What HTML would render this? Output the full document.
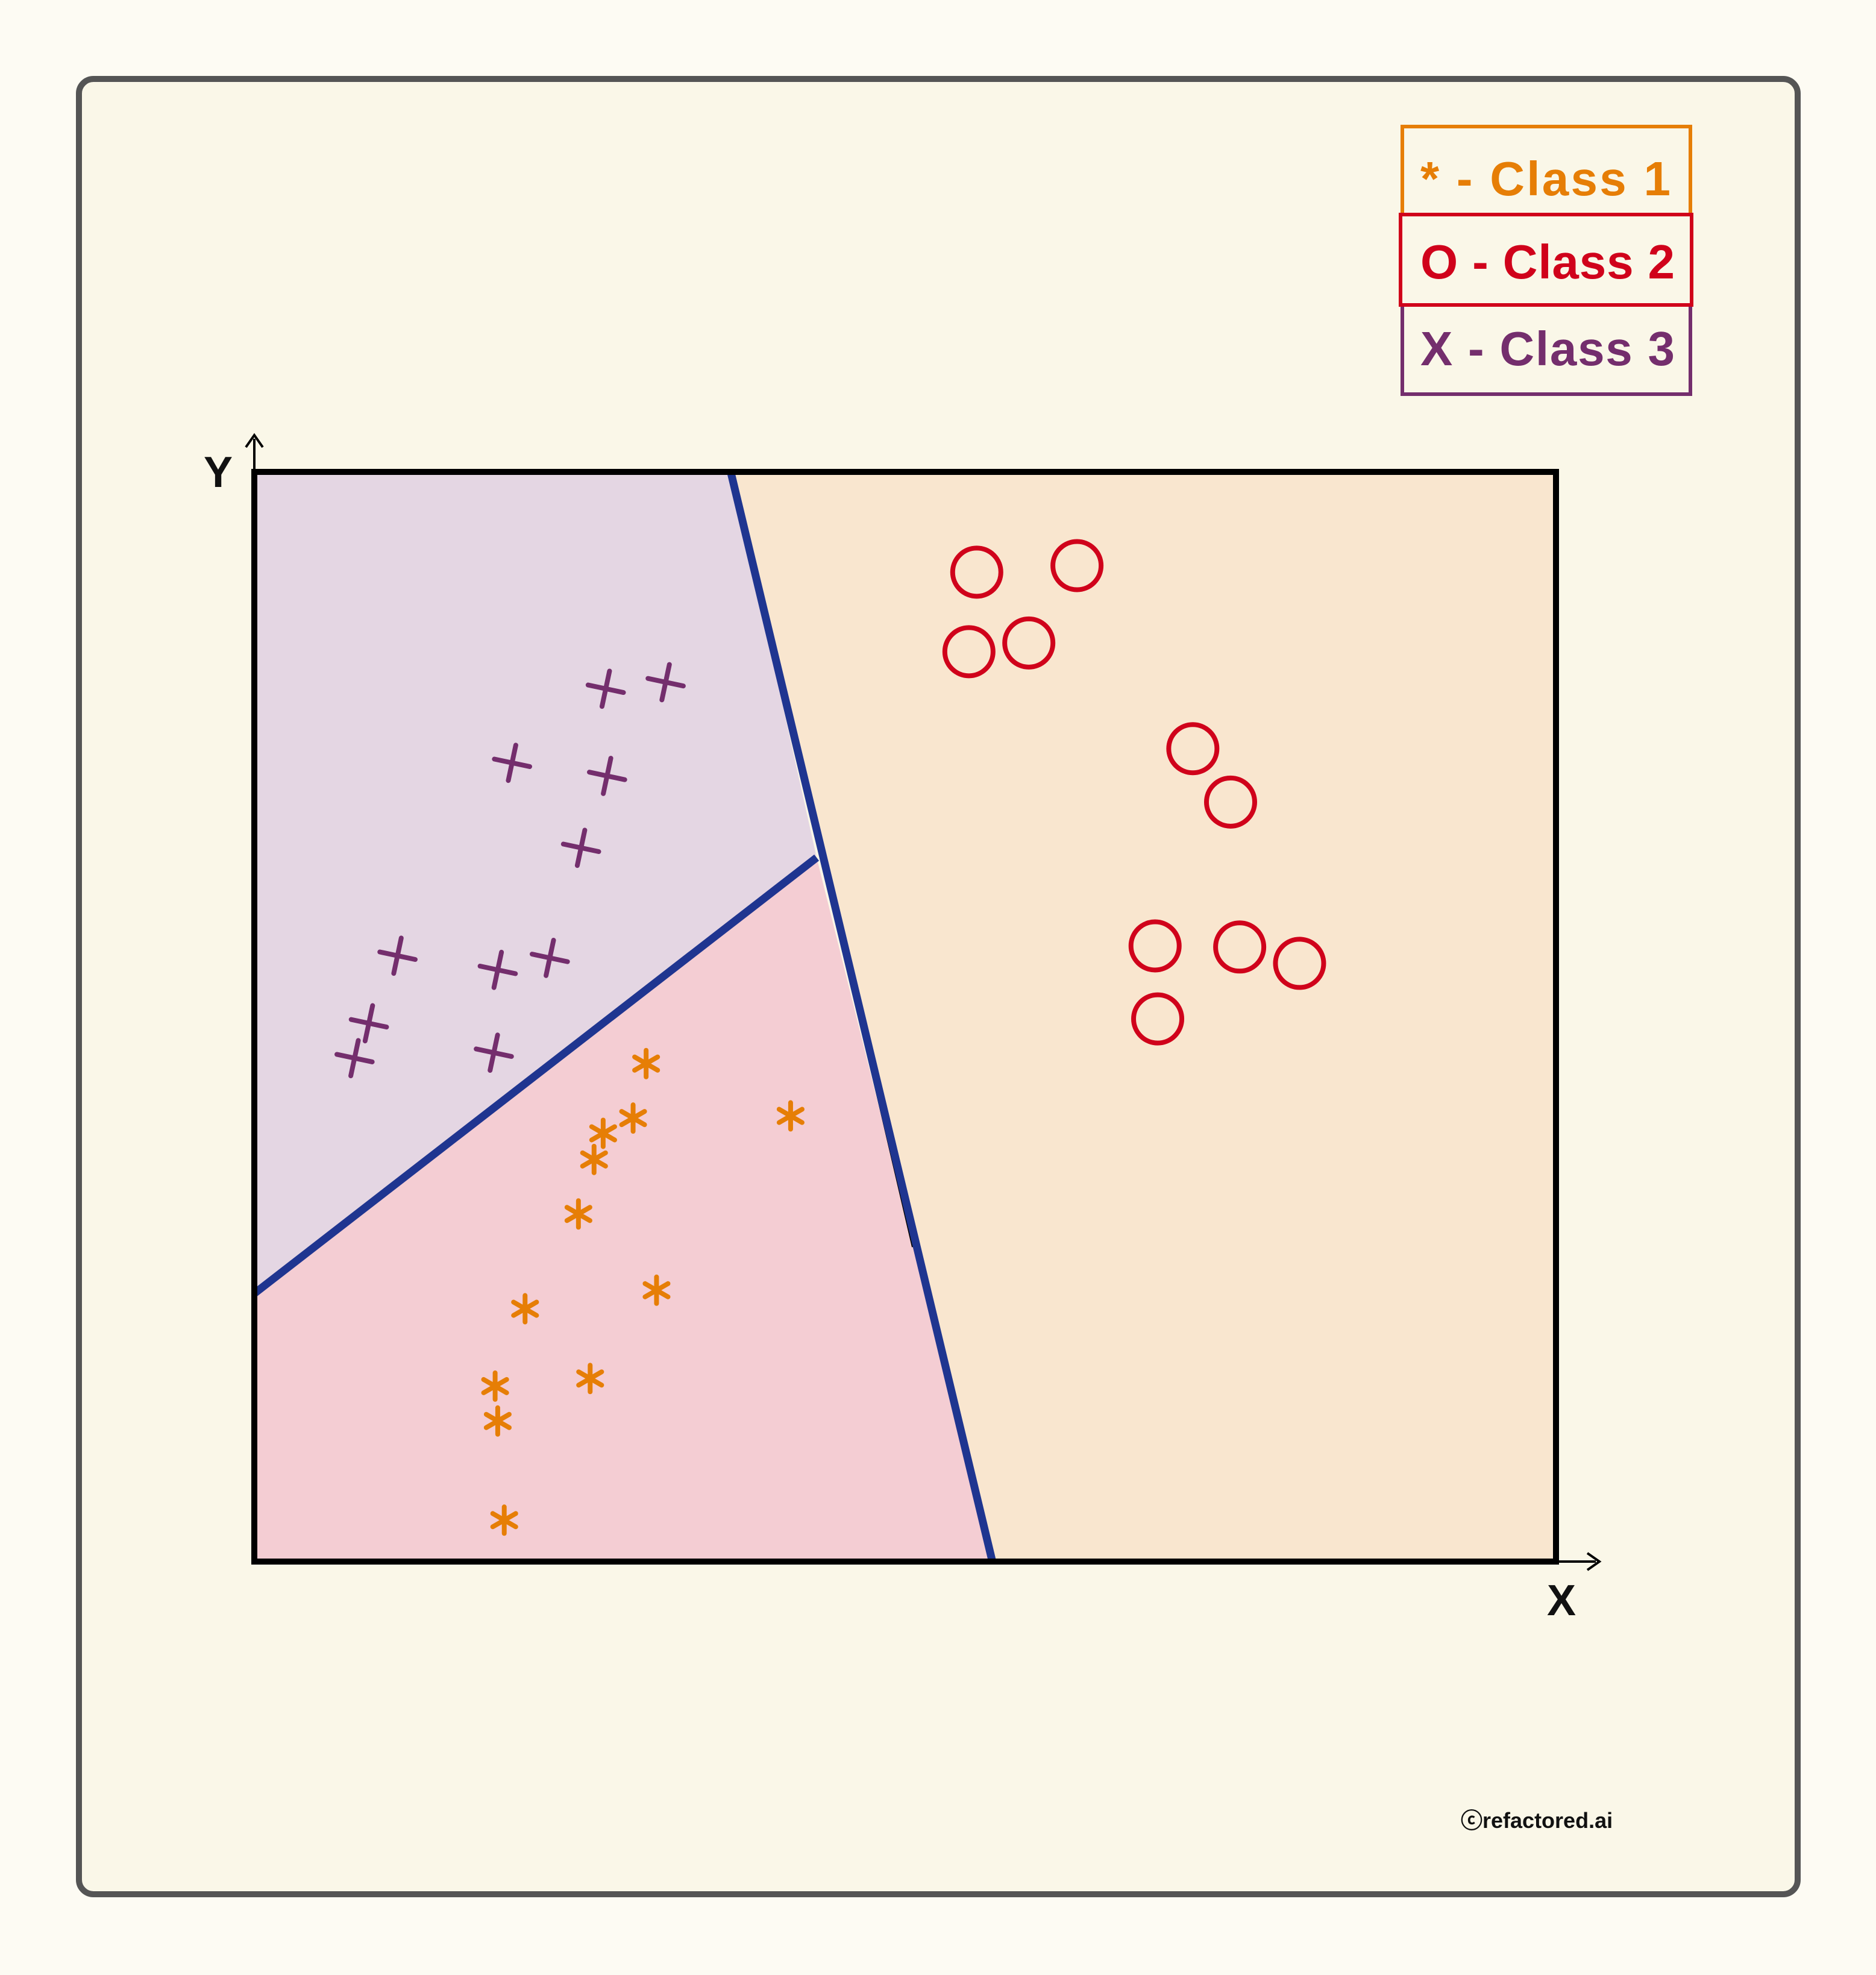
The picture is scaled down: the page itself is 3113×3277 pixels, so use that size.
<!DOCTYPE html>
<html><head><meta charset="utf-8">
<style>
html,body{margin:0;padding:0;background:#fdfbf3;}
svg{display:block;font-family:"Liberation Sans","DejaVu Sans",sans-serif;}
</style></head>
<body>
<svg id="chart" width="3113" height="3277" viewBox="0 0 3113 3277">
<rect x="0" y="0" width="3113" height="3277" fill="#fdfbf3"/>
<rect x="131" y="131" width="2852" height="3012" rx="24" fill="#faf7e8" stroke="#555555" stroke-width="10"/>
<g id="regions"></g>
<line x1="1281" y1="1066" x2="1515" y2="2069" stroke="#000" stroke-width="4"/>
<g id="lines"></g>
<rect x="422" y="783" width="2160" height="1808" fill="none" stroke="#000" stroke-width="10"/>
<g>
<line x1="422" y1="2591" x2="422" y2="728" stroke="#000" stroke-width="4"/>
<path d="M408,742 L422,722 L436,742" fill="none" stroke="#000" stroke-width="4"/>
</g>
<g>
<line x1="422" y1="2591" x2="2648" y2="2591" stroke="#000" stroke-width="4"/>
<path d="M2634,2577 L2654,2591 L2634,2605" fill="none" stroke="#000" stroke-width="4"/>
</g>
<text x="362" y="808" font-size="72" font-weight="bold" text-anchor="middle" fill="#111">Y</text>
<text x="2591" y="2680" font-size="72" font-weight="bold" text-anchor="middle" fill="#111">X</text>
<g id="marks"></g>
<g>
<g>
<rect x="2327" y="210" width="478" height="146" fill="none" stroke="#e67e06" stroke-width="6"/>
<text x="2357" y="324" font-size="80" font-weight="bold" fill="#e67e06" textLength="415" lengthAdjust="spacing">* - Class 1</text>
</g>
<g>
<rect x="2327" y="506" width="478" height="148" fill="none" stroke="#742e6d" stroke-width="6"/>
<text x="2357" y="606" font-size="80" font-weight="bold" fill="#742e6d" textLength="422" lengthAdjust="spacing">X - Class 3</text>
</g>
<g>
<rect x="2324" y="356" width="483" height="150" fill="none" stroke="#d0021b" stroke-width="6"/>
<text x="2357" y="462" font-size="80" font-weight="bold" fill="#d0021b" textLength="422" lengthAdjust="spacing">O - Class 2</text>
</g>
</g>
<text x="2424" y="3033" font-size="36" font-weight="bold" fill="#111">ⓒrefactored.ai</text>
</svg>
<script>
const circleX=[5.55,6.32,5.49,5.95,7.21,7.50,6.92,7.57,8.03,6.94];
const circleY=[9.08,9.14,8.35,8.43,7.46,6.97,5.65,5.64,5.49,4.98];
const plusX=[2.70,3.16,1.98,2.71,2.51,1.10,1.87,2.27,0.88,0.77,1.84];
const plusY=[8.01,8.07,7.33,7.21,6.55,5.56,5.43,5.54,4.94,4.62,4.67];
const starX=[3.01,4.12,2.91,2.68,2.61,2.49,3.09,2.08,2.58,1.85,1.87,1.92];
const starY=[4.57,4.09,4.07,3.93,3.69,3.19,2.49,2.32,1.68,1.61,1.29,0.38];
const boundary1=[[3.66,10],[5.67,0]];
const boundary2=[[0,2.46],[4.32,6.46]];

const NS='http://www.w3.org/2000/svg';
const X0=422,X1=2582,Y0=2591,Y1=783;
function sx(v){return X0+(X1-X0)*v/10;}
function sy(v){return Y0-(Y0-Y1)*v/10;}
function mk(tag,attrs,parent){const e=document.createElementNS(NS,tag);for(const k in attrs)e.setAttribute(k,attrs[k]);parent.appendChild(e);return e;}

const regions=document.getElementById('regions');
const p1t=[sx(boundary1[0][0]),sy(boundary1[0][1])],p1b=[sx(boundary1[1][0]),sy(boundary1[1][1])];
const p2a=[sx(boundary2[0][0]),sy(boundary2[0][1])],p2b=[sx(boundary2[1][0]),sy(boundary2[1][1])];
let r=mk('polygon',{points:`${p1t} ${X1},${Y1} ${X1},${Y0} ${p1b}`,fill:'#f9e6cf'},regions);


r=mk('polygon',{points:`${X0},${Y1} ${p1t} ${p2b} ${p2a}`,fill:'#e4d6e3'},regions);


r=mk('polygon',{points:`${p2a} ${p2b} ${p1b} ${X0},${Y0}`,fill:'#f4cdd3'},regions);



const lines=document.getElementById('lines');
let l=mk('line',{x1:p1t[0],y1:p1t[1],x2:p1b[0],y2:p1b[1],stroke:'#1f3590','stroke-width':13},lines);


l=mk('line',{x1:p2a[0],y1:p2a[1],x2:p2b[0],y2:p2b[1],stroke:'#1f3590','stroke-width':13},lines);



const marks=document.getElementById('marks');
circleX.forEach((v,i)=>{
  const c=mk('circle',{cx:sx(v),cy:sy(circleY[i]),r:40,fill:'none',stroke:'#d0021b','stroke-width':8},marks);
  
  
});
plusX.forEach((v,i)=>{
  const g=mk('g',{transform:`translate(${sx(v)},${sy(plusY[i])}) rotate(12)`,stroke:'#742e6d','stroke-width':8,'stroke-linecap':'round'},marks);
  
  
  mk('line',{x1:-30,y1:0,x2:30,y2:0},g);
  mk('line',{x1:0,y1:-30,x2:0,y2:30},g);
});
starX.forEach((v,i)=>{
  const g=mk('g',{transform:`translate(${sx(v)},${sy(starY[i])})`,stroke:'#e67e06','stroke-width':8,'stroke-linecap':'round'},marks);
  
  
  for(let k=0;k<3;k++){const a=(k*60+90)*Math.PI/180;mk('line',{x1:-22*Math.cos(a),y1:-22*Math.sin(a),x2:22*Math.cos(a),y2:22*Math.sin(a)},g);}
});
</script>
</body></html>
